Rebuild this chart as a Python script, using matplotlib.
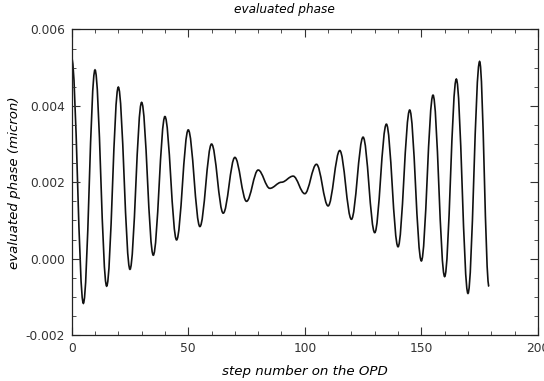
import matplotlib
matplotlib.use("Agg")
import matplotlib.pyplot as plt
from matplotlib.path import Path
from matplotlib.patches import PathPatch
from matplotlib.ticker import MultipleLocator

# extrema of the evaluated phase (step, micron)
steps = [0, 5, 10, 15, 20, 25, 30, 35, 40, 45, 50, 55, 60, 65, 70, 75, 80, 85,
         90, 95, 100, 105, 110, 115, 120, 125, 130, 135, 140, 145, 150, 155,
         160, 165, 170, 175, 179]
phase = [0.00525, -0.00117, 0.00494, -0.00072, 0.00449, -0.00028, 0.00409,
         0.00009, 0.00372, 0.00049, 0.00337, 0.00084, 0.00300, 0.00119,
         0.00265, 0.00150, 0.00232, 0.00184, 0.00200, 0.00216, 0.00170,
         0.00247, 0.00138, 0.00283, 0.00103, 0.00318, 0.00068, 0.00352,
         0.00031, 0.00389, -0.00006, 0.00428, -0.00047, 0.00470, -0.00091,
         0.00516, -0.00073]

fig = plt.figure(figsize=(5.44, 3.81), dpi=100)
ax = fig.add_axes([0.1318, 0.1207, 0.857, 0.802])

# smooth curve through the extrema (bezier with flat tangents)
verts = [(steps[0], phase[0])]
codes = [Path.MOVETO]
h = 0.364
for i in range(1, len(steps)):
    x0, y0 = steps[i - 1], phase[i - 1]
    x1, y1 = steps[i], phase[i]
    dx = x1 - x0
    verts += [(x0 + h * dx, y0), (x1 - h * dx, y1), (x1, y1)]
    codes += [Path.CURVE4] * 3
ax.add_patch(PathPatch(Path(verts, codes), fill=False, edgecolor="#111111", lw=1.2))

ax.set_xlim(0, 200)
ax.set_ylim(-0.002, 0.006)
ax.xaxis.set_major_locator(MultipleLocator(50))
ax.xaxis.set_minor_locator(MultipleLocator(10))
ax.yaxis.set_major_locator(MultipleLocator(0.002))
ax.yaxis.set_minor_locator(MultipleLocator(0.0005))
ax.yaxis.set_major_formatter(plt.FuncFormatter(lambda v, p: "%.3f" % v if abs(v) > 1e-9 else "0.000"))
ax.tick_params(which="both", direction="in", top=True, right=True, labelsize=8.8,
               color="#333333", labelcolor="#333333")
ax.tick_params(which="major", length=6, pad=5)
ax.tick_params(which="minor", length=3)
for s in ax.spines.values():
    s.set_linewidth(0.9)
    s.set_color("#222222")

ax.set_title("evaluated phase", fontsize=8.7, style="italic", x=0.457, pad=12)
ax.set_xlabel("step number on the OPD", fontsize=9.6, style="italic", labelpad=7)
ax.set_ylabel("evaluated phase (micron)", fontsize=9.6, style="italic", labelpad=3)

fig.savefig("out.png", dpi=100)
